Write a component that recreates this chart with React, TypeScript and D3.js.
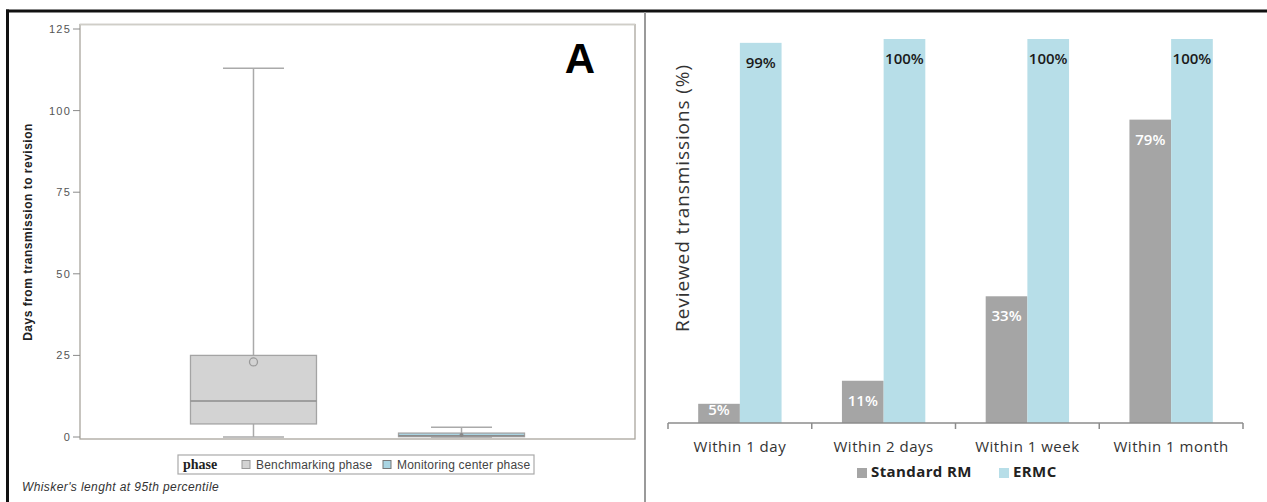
import React from "react";
import * as d3 from "d3";

// ---------- Panel A data (box plot) ----------
const phases = ["Benchmarking phase", "Monitoring center phase"];
const whiskerLow = [0, 0];
const q1 = [4, 0.1];
const median = [11, 0.4];
const q3 = [25, 1.2];
const whiskerHigh = [113, 3];
const mean = [23, 0.6];
const yTicksA = [0, 25, 50, 75, 100, 125];

// ---------- Panel B data (grouped bars) ----------
const categories = ["Within 1 day", "Within 2 days", "Within 1 week", "Within 1 month"];
const seriesNames = ["Standard RM", "ERMC"];
const standardRM = [5, 11, 33, 79];
const ermc = [99, 100, 100, 100];

const boxFill = ["#d3d3d3", "#a9d4e2"];
const barColors = ["#a5a5a5", "#b7dee8"];

export default function App() {
  // Panel A scales
  const yA = d3.scaleLinear().domain([0, 125]).range([437, 29]);
  const xA = d3.scalePoint<string>().domain(phases).range([80, 635]).padding(0.834);
  const boxW = 126;
  const capW = 61;

  // Panel B scales
  const x0 = d3.scaleBand<string>().domain(categories).range([668, 1243]).paddingInner(0.42).paddingOuter(0.21);
  const x1 = d3.scaleBand<string>().domain(seriesNames).range([0, x0.bandwidth()]);
  const yB = d3.scaleLinear().domain([0, 100]).range([423, 39]);
  const seriesVals = [standardRM, ermc];

  const arial = "'Liberation Sans', Arial, sans-serif";
  const sans = "'Open Sans', 'Noto Sans', sans-serif";

  return (
    <svg width={1267} height={502} style={{ position: "absolute", left: 0, top: 0, background: "#fff" }}>
      {/* outer frame */}
      <line x1={6} x2={1267} y1={11} y2={11} stroke="#111" strokeWidth={3} />
      <line x1={7.5} x2={7.5} y1={9.5} y2={502} stroke="#111" strokeWidth={3} />
      <line x1={645} x2={645} y1={12} y2={502} stroke="#9a9a9a" strokeWidth={2} />

      {/* ---------- Panel A ---------- */}
      <rect x={80} y={24.5} width={555} height={414.5} fill="#fff" stroke="#a9a59d" strokeWidth={1.3} />
      <line x1={80} x2={635} y1={24.5} y2={24.5} stroke="#d0cec8" strokeWidth={1.5} />
      {yTicksA.map((t) => (
        <g key={t}>
          <line x1={73} x2={80} y1={yA(t)} y2={yA(t)} stroke="#8a8a8a" strokeWidth={1} />
          <text x={71} y={yA(t) + 4} textAnchor="end" fontFamily={arial} fontSize={11} letterSpacing={1.2} fill="#555">
            {t}
          </text>
        </g>
      ))}
      <text
        transform={`translate(32,232) rotate(-90)`}
        textAnchor="middle"
        fontFamily={arial}
        fontWeight="bold"
        fontSize={12}
        letterSpacing={0.5}
        fill="#222"
      >
        Days from transmission to revision
      </text>
      {phases.map((p, i) => {
        const cx = xA(p)!;
        return (
          <g key={p}>
            <line x1={cx} x2={cx} y1={yA(whiskerHigh[i])} y2={yA(q3[i])} stroke="#aaa" strokeWidth={1.5} />
            <line x1={cx} x2={cx} y1={yA(q1[i])} y2={yA(whiskerLow[i])} stroke="#aaa" strokeWidth={1.5} />
            <line x1={cx - capW / 2} x2={cx + capW / 2} y1={yA(whiskerHigh[i])} y2={yA(whiskerHigh[i])} stroke="#aaa" strokeWidth={1.5} />
            <line x1={cx - capW / 2} x2={cx + capW / 2} y1={yA(whiskerLow[i])} y2={yA(whiskerLow[i])} stroke="#aaa" strokeWidth={1.5} />
            <rect
              x={cx - boxW / 2}
              y={yA(q3[i])}
              width={boxW}
              height={Math.max(yA(q1[i]) - yA(q3[i]), 1)}
              fill={boxFill[i]}
              stroke="#a4a4a4"
              strokeWidth={1.3}
            />
            <line x1={cx - boxW / 2} x2={cx + boxW / 2} y1={yA(median[i])} y2={yA(median[i])} stroke="#8c8c8c" strokeWidth={1.5} />
            {i === 0 ? (
              <circle cx={cx} cy={yA(mean[i])} r={4} fill="none" stroke="#999" strokeWidth={1.3} />
            ) : (
              <circle cx={cx} cy={yA(mean[i])} r={2} fill="#888" stroke="none" />
            )}
          </g>
        );
      })}
      <text x={580} y={73} textAnchor="middle" fontFamily={arial} fontWeight="bold" fontSize={42} fill="#000">
        A
      </text>

      {/* legend A */}
      <rect x={178} y={455} width={356} height={19} fill="#fff" stroke="#aaa" strokeWidth={1.2} />
      <text x={183} y={469} fontFamily="'Liberation Serif', 'Times New Roman', serif" fontWeight="bold" fontSize={14} fill="#222">
        phase
      </text>
      <rect x={242} y={460.5} width={8} height={8} fill={boxFill[0]} stroke="#999" strokeWidth={1} />
      <text x={256} y={469} fontFamily={arial} fontSize={12} letterSpacing={0.2} fill="#444">
        {phases[0]}
      </text>
      <rect x={383} y={460.5} width={8} height={8} fill={boxFill[1]} stroke="#777" strokeWidth={1} />
      <text x={397} y={469} fontFamily={arial} fontSize={12} letterSpacing={0.2} fill="#444">
        {phases[1]}
      </text>
      <text x={22} y={491} fontFamily={arial} fontStyle="italic" fontSize={12} letterSpacing={0.4} fill="#333">
        Whisker's lenght at 95th percentile
      </text>

      {/* ---------- Panel B ---------- */}
      <text
        transform={`translate(689,198) rotate(-90)`}
        textAnchor="middle"
        fontFamily={sans}
        fontSize={19}
        letterSpacing={0.9}
        fill="#333"
      >
        Reviewed transmissions (%)
      </text>
      {categories.map((c, ci) => (
        <g key={c}>
          {seriesNames.map((s, si) => {
            const v = seriesVals[si][ci];
            const bx = x0(c)! + x1(s)!;
            const top = yB(v);
            const ly = si === 0 ? Math.min(top + 25, yB(0) - 8) : top + 25;
            return (
              <g key={s}>
                <rect x={bx} y={top} width={x1.bandwidth()} height={yB(0) - top} fill={barColors[si]} />
                <text
                  x={bx + x1.bandwidth() / 2}
                  y={ly}
                  textAnchor="middle"
                  fontFamily={sans}
                  fontWeight={600}
                  fontSize={15}
                  fill={si === 0 ? "#fff" : "#1a1a1a"}
                >
                  {v}%
                </text>
              </g>
            );
          })}
          <text
            x={x0(c)! + x0.bandwidth() / 2}
            y={452}
            textAnchor="middle"
            fontFamily={sans}
            fontSize={15}
            letterSpacing={0.5}
            fill="#333"
          >
            {c}
          </text>
        </g>
      ))}
      <line x1={668} x2={1243} y1={yB(0)} y2={yB(0)} stroke="#8c8c8c" strokeWidth={1.5} />
      {[...categories.map((c) => x0(c)! - x0.step() * 0.21), 1243].map((tx, i) => (
        <line key={i} x1={tx} x2={tx} y1={yB(0)} y2={yB(0) + 6} stroke="#8c8c8c" strokeWidth={1.5} />
      ))}

      {/* legend B */}
      <rect x={857} y={468} width={10} height={10} fill={barColors[0]} />
      <text x={871} y={477} fontFamily={sans} fontWeight="bold" fontSize={15} letterSpacing={0.4} fill="#222">
        {seriesNames[0]}
      </text>
      <rect x={999} y={468} width={10} height={10} fill={barColors[1]} />
      <text x={1013} y={477} fontFamily={sans} fontWeight="bold" fontSize={15} letterSpacing={0.4} fill="#222">
        {seriesNames[1]}
      </text>
    </svg>
  );
}
